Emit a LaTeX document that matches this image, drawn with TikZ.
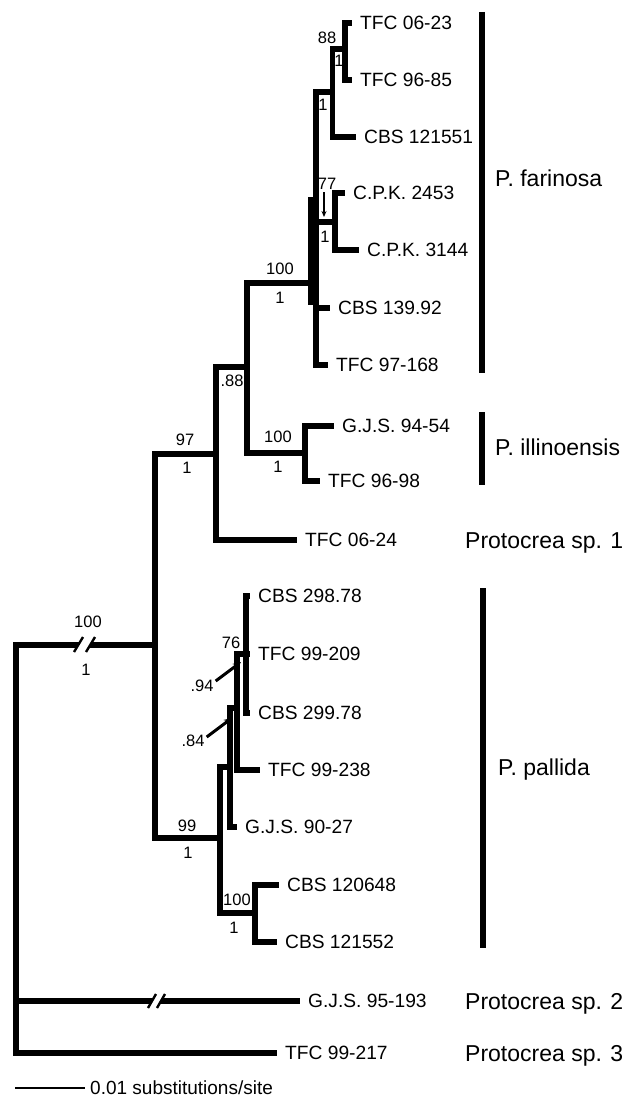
\documentclass[tikz,border=0pt]{standalone}
\usepackage{fontspec}
\setmainfont{Liberation Sans}
\usetikzlibrary{arrows.meta}
\begin{document}
\begin{tikzpicture}[x=1pt,y=-1pt,
  br/.style={line width=5.2pt, line cap=rect, line join=miter},
  taxon/.style={font=\fontsize{19.2}{22}\selectfont, inner sep=0pt, anchor=west, text height=13.8pt, text depth=0pt},
  bs/.style={font=\fontsize{16.5}{19}\selectfont, inner sep=0pt, text height=11.9pt, text depth=0pt},
  clade/.style={font=\fontsize{23}{27}\selectfont, inner sep=0pt, anchor=base west},
  cbar/.style={line width=6pt},
  slash/.style={line width=2.4pt},
  lead/.style={line width=3pt, -{Stealth[length=8pt,width=7pt]}},
  thinlead/.style={line width=1.3pt, -{Stealth[length=6pt,width=5pt]}}
]
\useasboundingbox (0,0) rectangle (631,1099);
% taxon labels
\node[taxon] (l1) at (360,23) {TFC 06-23};
\node[taxon] (l2) at (360,80) {TFC 96-85};
\node[taxon] (l3) at (364,137) {CBS 121551};
\node[taxon] (l4) at (353,193) {C.P.K. 2453};
\node[taxon] (l5) at (367,250) {C.P.K. 3144};
\node[taxon] (l6) at (338,308) {CBS 139.92};
\node[taxon] (l7) at (336,365) {TFC 97-168};
\node[taxon] (l8) at (342,426) {G.J.S. 94-54};
\node[taxon] (l9) at (328,481) {TFC 96-98};
\node[taxon] (l10) at (305,540) {TFC 06-24};
\node[taxon] (l11) at (258,596) {CBS 298.78};
\node[taxon] (l12) at (258,654) {TFC 99-209};
\node[taxon] (l13) at (258,713) {CBS 299.78};
\node[taxon] (l14) at (268,770) {TFC 99-238};
\node[taxon] (l15) at (245,827) {G.J.S. 90-27};
\node[taxon] (l16) at (287,885) {CBS 120648};
\node[taxon] (l17) at (285,942) {CBS 121552};
\node[taxon] (l18) at (308,1001) {G.J.S. 95-193};
\node[taxon] (l19) at (285,1053) {TFC 99-217};
% tips
\foreach \i in {1,...,19} {\coordinate (t\i) at ([xshift=-10.5pt]l\i.west);}
% internal nodes
\coordinate (R) at (16,645);
\coordinate (A) at (155,645);
\coordinate (B) at (216,454);
\coordinate (C) at (247,367);
\coordinate (F) at (316,283);
\coordinate (Fa) at (311,200);
\coordinate (Fb) at (311,302);
\coordinate (T1) at (332.5,92);
\coordinate (N88) at (345,49);
\coordinate (CPK) at (335,222);
\coordinate (I) at (305,453);
\coordinate (P99) at (220,838);
\coordinate (S100) at (255,913);
\coordinate (S1) at (230,767);
\coordinate (S2) at (237,708);
\coordinate (S76) at (246,654);
% branches
\draw[br] (N88) |- (t1); \draw[br] (N88) |- (t2);
\draw[br] (T1) |- (N88); \draw[br] (T1) |- (t3);
\draw[br] (CPK) |- (t4); \draw[br] (CPK) |- (t5);
\draw[br] (F) |- (T1); \draw[br] (F) |- (CPK); \draw[br] (F) |- (t6); \draw[br] (F) |- (t7);
\draw[br] (Fa) -- (Fb);
\draw[br] (I) |- (t8); \draw[br] (I) |- (t9);
\draw[br] (C) |- (F); \draw[br] (C) |- (I);
\draw[br] (B) |- (C); \draw[br] (B) |- (t10);
\draw[br] (A) |- (B); \draw[br] (A) |- (P99);
\draw[br] (S76) |- (t11); \draw[br] (S76) |- (t12); \draw[br] (S76) |- (t13);
\draw[br] (S2) |- (S76); \draw[br] (S2) |- (t14);
\draw[br] (S1) |- (S2); \draw[br] (S1) |- (t15);
\draw[br] (S100) |- (t16); \draw[br] (S100) |- (t17);
\draw[br] (P99) |- (S1); \draw[br] (P99) |- (S100);
\draw[br] (R) -- (A); \draw[br] (R) |- (t18); \draw[br] (R) |- (t19);
% breaks
\fill[white] (74,652) -- (83,637) -- (95,637) -- (86,652) -- cycle;
\draw[slash] (74,652) -- (83,637);
\draw[slash] (86,652) -- (95,637);
\fill[white] (148,1008) -- (156,994) -- (165,994) -- (157,1008) -- cycle;
\draw[slash] (148,1008) -- (156,994);
\draw[slash] (157,1008) -- (165,994);
% support values
\node[bs] (s88) at (327,38) {88};
\node[bs] (s88b) at (339,61) {1};
\node[bs] (sT1) at (323,105) {1};
\node[bs] (s77) at (327,184) {77};
\node[bs] (sCPK) at (325,237) {1};
\node[bs] (sF100) at (280,269) {100};
\node[bs] (sF1) at (280,298) {1};
\node[bs] (s88c) at (232,381) {.88};
\node[bs] (sI100) at (278,437) {100};
\node[bs] (sI1) at (278,467) {1};
\node[bs] (s97) at (185,440) {97};
\node[bs] (s97b) at (187,468) {1};
\node[bs] (sR100) at (88,622) {100};
\node[bs] (sR1) at (86,670) {1};
\node[bs] (s76) at (231,643) {76};
\node[bs] (s94) at (202,686) {.94};
\node[bs] (s84) at (193,741) {.84};
\node[bs] (s99) at (187,826) {99};
\node[bs] (s99b) at (188,853) {1};
\node[bs] (s100p) at (237,900) {100};
\node[bs] (s100pb) at (234,928) {1};
% leaders
\coordinate (e77) at (324,217);
\coordinate (e94) at (241,662);
\coordinate (e84) at (232,718);
\draw[thinlead] ([xshift=-3pt,yshift=-2pt]s77.south) -- (e77);
\draw[lead] ([shift={(2,-5)}]s94.east) -- (e94);
\draw[lead] ([shift={(2,-4)}]s84.east) -- (e84);
% clade bars and names
\draw[cbar] (482,12) -- (482,373);
\draw[cbar] (482,412) -- (482,485);
\draw[cbar] (483,588) -- (483,948);
\node[clade] (c1) at (495,187) {P. farinosa};
\node[clade] (c2) at (495,455) {P. illinoensis};
\node[clade] (c3) at (465,548) {Protocrea sp. 1};
\node[clade] (c4) at (498,775) {P. pallida};
\node[clade] (c5) at (465,1009) {Protocrea sp. 2};
\node[clade] (c6) at (465,1061) {Protocrea sp. 3};
% scale bar
\node[taxon, font=\fontsize{19}{22}\selectfont] (sc) at (90,1088) {0.01 substitutions/site};
\coordinate (sb) at (15,1088);
\draw[line width=2.2pt] (sb) -- ([xshift=-5pt]sc.west);
\end{tikzpicture}
\end{document}
